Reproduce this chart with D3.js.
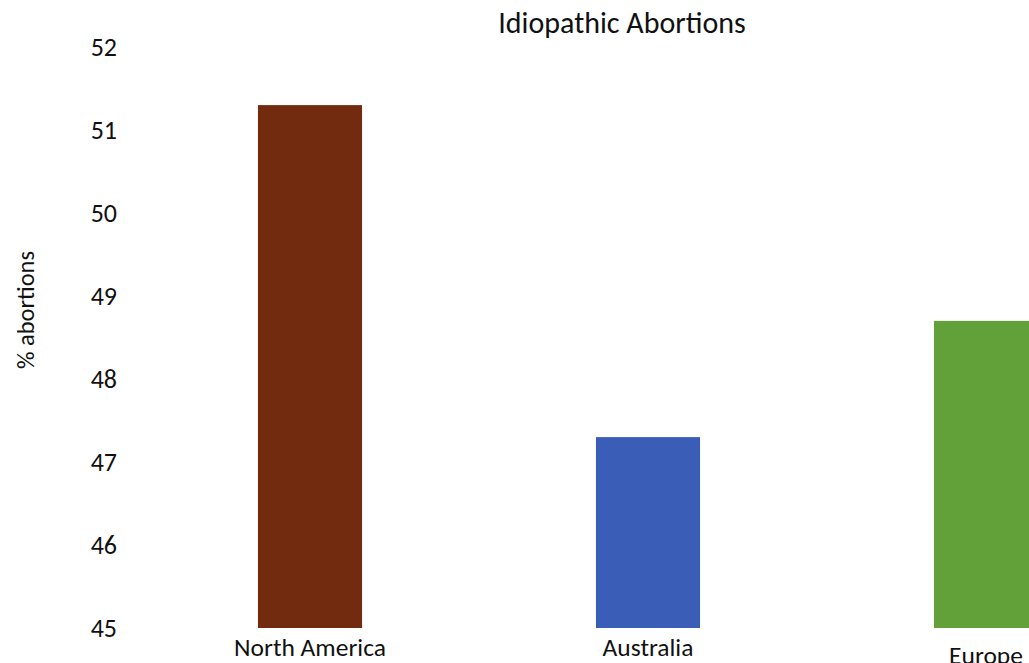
<!DOCTYPE html>
<html>
<head>
<meta charset="utf-8">
<script src="https://cdn.jsdelivr.net/npm/d3@7"></script>
<style>
  body { margin: 0; background: #fff; overflow: hidden; }
  text { font-family: Carlito, Lato, "Open Sans", sans-serif; fill: #111; }
</style>
</head>
<body>
<svg id="chart" width="1029" height="663"></svg>
<script>
// data
var regions = ["North America", "Australia", "Europe"];
var pctAbortions = [51.3, 47.3, 48.7];
var barColors = ["#722b0e", "#3a5db8", "#62a03a"];
var yTicks = [45, 46, 47, 48, 49, 50, 51, 52];

var svg = d3.select("#chart");

// x band: one step is ~338px, bar ~104px wide
var x = d3.scaleBand()
    .domain(regions)
    .range([141, 1155])
    .paddingInner(0.692)
    .paddingOuter(0.346);

var y = d3.scaleLinear()
    .domain([45, 52])
    .range([628, 47]);

// bars
svg.append("g")
  .selectAll("rect")
  .data(regions)
  .enter().append("rect")
    .attr("x", function(d) { return x(d); })
    .attr("y", function(d, i) { return y(pctAbortions[i]); })
    .attr("width", x.bandwidth())
    .attr("height", function(d, i) { return y(45) - y(pctAbortions[i]); })
    .attr("fill", function(d, i) { return barColors[i]; });

// y axis, no line or tick marks, just labels
var yAxis = svg.append("g")
    .attr("transform", "translate(117,0)")
    .call(d3.axisLeft(y).tickValues(yTicks).tickSize(0).tickPadding(0).tickFormat(d3.format("d")));
yAxis.select(".domain").remove();
yAxis.attr("font-family", null).attr("font-size", null);
yAxis.selectAll("text")
    .attr("font-size", "26px")
    .attr("fill", null);

// category labels under the bars (Europe sits lower and is cut by the edge)
svg.append("g")
  .selectAll("text")
  .data(regions)
  .enter().append("text")
    .attr("x", function(d) { return x(d) + x.bandwidth() / 2; })
    .attr("y", function(d, i) { return i === 2 ? 664 : 656; })
    .attr("text-anchor", "middle")
    .attr("font-size", "25.5px")
    .text(function(d) { return d; });

// title
svg.append("text")
    .attr("x", 622)
    .attr("y", 33)
    .attr("text-anchor", "middle")
    .attr("font-size", "30px")
    .text("Idiopathic Abortions");

// y axis title
svg.append("text")
    .attr("transform", "translate(34,310) rotate(-90)")
    .attr("text-anchor", "middle")
    .attr("font-size", "24.5px")
    .text("% abortions");
</script>
</body>
</html>
